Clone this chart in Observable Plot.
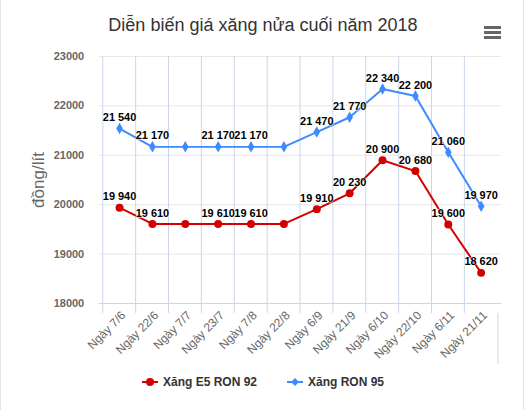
<!DOCTYPE html>
<html><head><meta charset="utf-8">
<script src="https://cdn.jsdelivr.net/npm/d3@7"></script>
<script src="https://cdn.jsdelivr.net/npm/@observablehq/plot@0.6"></script>
<style>
body{margin:0;background:#fff;font-family:"Liberation Sans",Arial,sans-serif;}
#wrap{position:relative;width:522px;height:410px;border-left:1px solid #e3e3e3;border-right:1px solid #e3e3e3;box-sizing:content-box;}
#title{position:absolute;left:0;top:15px;width:524px;text-align:center;font-size:18px;color:#333;}
#menu{position:absolute;left:483px;top:26px;width:17px;}
#menu div{height:3px;background:#666;margin-bottom:2px;}
#chart{position:absolute;left:0;top:45px;}
#ylab{position:absolute;left:38px;top:180px;transform:translate(-50%,-50%) rotate(-90deg);font-size:17px;color:#666;white-space:nowrap;}
#legend{position:absolute;top:375px;left:0;width:524px;display:flex;justify-content:center;gap:30px;font-size:12px;font-weight:bold;color:#333;}
#legend span{display:flex;align-items:center;gap:5px;}
</style></head><body>
<div id="wrap">
<div id="title">Diễn biến giá xăng nửa cuối năm 2018</div>
<div id="menu"><div></div><div></div><div></div></div>
<div id="ylab">đồng/lít</div>
<div id="chart"></div>
<div id="legend"></div>
</div>
<script>
const categories = ["Ngày 7/6","Ngày 22/6","Ngày 7/7","Ngày 23/7","Ngày 7/8","Ngày 22/8","Ngày 6/9","Ngày 21/9","Ngày 6/10","Ngày 22/10","Ngày 6/11","Ngày 21/11"];
const e5ron92 = [19940,19610,19610,19610,19610,19610,19910,20230,20900,20680,19600,18620];
const ron95 = [21540,21170,21170,21170,21170,21170,21470,21770,22340,22200,21060,19970];
const seriesNames = ["Xăng E5 RON 92","Xăng RON 95"];
const colors = ["#d40000","#3d8bff"];
const yTicks = [18000,19000,20000,21000,22000,23000];
// categories whose data labels are hidden in the original (overlap)
const hiddenLabels = ["Ngày 7/7","Ngày 22/8"];

const data = [];
categories.forEach((c,i)=>{
  data.push({cat:c,val:e5ron92[i],s:seriesNames[0]});
  data.push({cat:c,val:ron95[i],s:seriesNames[1]});
});
const fmt = v => d3.format(",")(v).replace(/,/g," ");
const W=524, H=320, ML=98, MR=22, MT=11, MB=61;
const bw = (W-ML-MR)/categories.length;
const red = data.filter(d=>d.s===seriesNames[0]);
const blue = data.filter(d=>d.s===seriesNames[1]);
const lbl = (arr) => Plot.text(arr.filter(d=>!hiddenLabels.includes(d.cat)),{x:"cat",y:"val",text:d=>fmt(d.val),dy:-11,fontSize:11,fontWeight:"bold",fill:"#000",stroke:"white",strokeWidth:1,paintOrder:"stroke"});

const plot = Plot.plot({
  width:W,height:H,marginLeft:ML,marginRight:MR,marginTop:MT,marginBottom:MB,
  style:{fontFamily:"Liberation Sans, Arial, sans-serif",background:"transparent"},
  x:{type:"band",domain:categories,padding:0,label:null},
  y:{domain:[18000,23000],label:null},
  marks:[
    Plot.gridY(yTicks,{stroke:"#e6e6e6",strokeOpacity:1}),
    Plot.axisY(yTicks,{tickSize:0,tickPadding:15,tickFormat:d=>String(d),fontSize:11,fill:"#666",fontWeight:"bold"}),
    Plot.ruleY([18000],{stroke:"#ccd6eb"}),
    Plot.tickX(categories,{x:d=>d,y1:18000,y2:18000,dx:-bw/2,insetBottom:-10,stroke:"#ccd6eb"}),
    Plot.ruleX([categories[categories.length-1]],{x:d=>d,y1:()=>18000,dx:bw/2,insetBottom:-10,stroke:"#ccd6eb"}),
    Plot.axisX(categories,{tickSize:0,tickPadding:10,tickRotate:-45,fontSize:12,fill:"#666",textAnchor:"end",dx:4}),
    Plot.line(red,{x:"cat",y:"val",stroke:colors[0],strokeWidth:2}),
    Plot.line(blue,{x:"cat",y:"val",stroke:colors[1],strokeWidth:2}),
    Plot.dot(red,{x:"cat",y:"val",fill:colors[0],r:4,symbol:"circle"}),
    Plot.dot(blue,{x:"cat",y:"val",fill:colors[1],r:3.5,symbol:"diamond"}),
    lbl(red),
    lbl(blue)
  ]
});
document.getElementById("chart").appendChild(plot);

const leg = document.getElementById("legend");
seriesNames.forEach((n,i)=>{
  const sp=document.createElement("span");
  const sym = i===0 ? `<circle cx="8" cy="6" r="4" fill="${colors[i]}"/>` : `<path d="M8 2 L12 6 L8 10 L4 6Z" fill="${colors[i]}"/>`;
  sp.innerHTML=`<svg width="16" height="12"><line x1="0" x2="16" y1="6" y2="6" stroke="${colors[i]}" stroke-width="2"/>${sym}</svg>${n}`;
  leg.appendChild(sp);
});
</script>
</body></html>
